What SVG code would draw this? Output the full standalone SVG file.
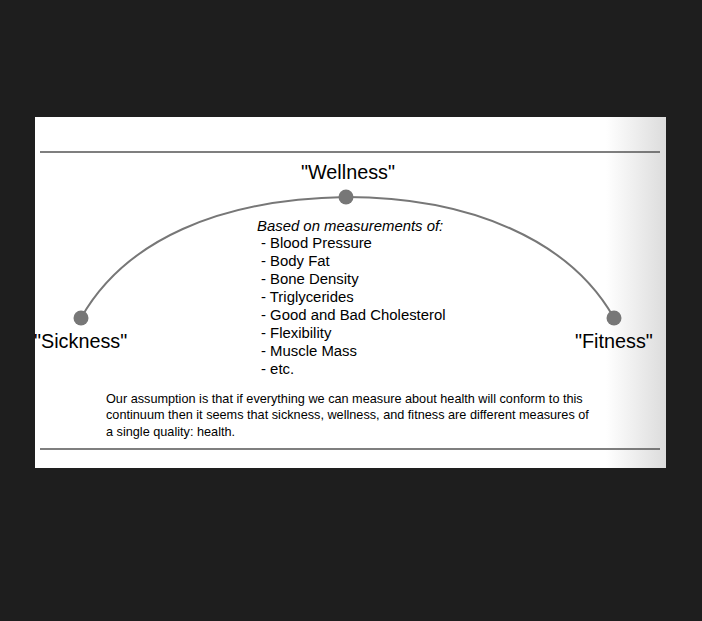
<svg xmlns="http://www.w3.org/2000/svg" width="702" height="621" viewBox="0 0 702 621">
<defs>
<linearGradient id="edge" x1="0" y1="0" x2="1" y2="0">
<stop offset="0" stop-color="#ffffff"/>
<stop offset="1" stop-color="#dcdcdc"/>
</linearGradient>
<style>
.t{font-family:"Liberation Sans",Arial,sans-serif;fill:#000}
.lbl{font-size:19.8px}
.lst{font-size:14.9px}
.par{font-size:12.7px}
.dot{fill:#777}
.rule{stroke:#555;stroke-width:1.5}
</style>
</defs>
<rect width="702" height="621" fill="#1e1e1e"/>
<rect x="35" y="117" width="631" height="351" fill="#fff"/>
<rect x="606" y="117" width="60" height="351" fill="url(#edge)"/>
<line class="rule" x1="40" y1="152" x2="660" y2="152"/>
<line class="rule" x1="40" y1="449" x2="660" y2="449"/>
<g id="connectors">
<path d="M81,318 C125,240 220,199 346,197 C470,197 570,240 614,318" fill="none" stroke="#777" stroke-width="2"/>
</g>
<g id="sickness">
<circle class="dot" cx="81" cy="318" r="7.5"/>
<text class="t lbl" x="34" y="348">"Sickness"</text>
</g>
<g id="wellness">
<circle class="dot" cx="346" cy="197" r="7.5"/>
<text class="t lbl" x="348" y="179" text-anchor="middle">"Wellness"</text>
</g>
<g id="fitness">
<circle class="dot" cx="614" cy="318" r="7.5"/>
<text class="t lbl" x="575" y="348">"Fitness"</text>
</g>
<g id="measurements">
<text class="t lst" x="257" y="231" font-style="italic">Based on measurements of:</text>
<text class="t lst" x="261" y="248"> - Blood Pressure</text>
<text class="t lst" x="261" y="266"> - Body Fat</text>
<text class="t lst" x="261" y="284"> - Bone Density</text>
<text class="t lst" x="261" y="302"> - Triglycerides</text>
<text class="t lst" x="261" y="320"> - Good and Bad Cholesterol</text>
<text class="t lst" x="261" y="338"> - Flexibility</text>
<text class="t lst" x="261" y="356"> - Muscle Mass</text>
<text class="t lst" x="261" y="374"> - etc.</text>
</g>
<g id="assumption">
<text class="t par" x="106" y="403">Our assumption is that if everything we can measure about health will conform to this</text>
<text class="t par" x="106" y="419">continuum then it seems that sickness, wellness, and fitness are different measures of</text>
<text class="t par" x="106" y="436">a single quality: health.</text>
</g>
</svg>
